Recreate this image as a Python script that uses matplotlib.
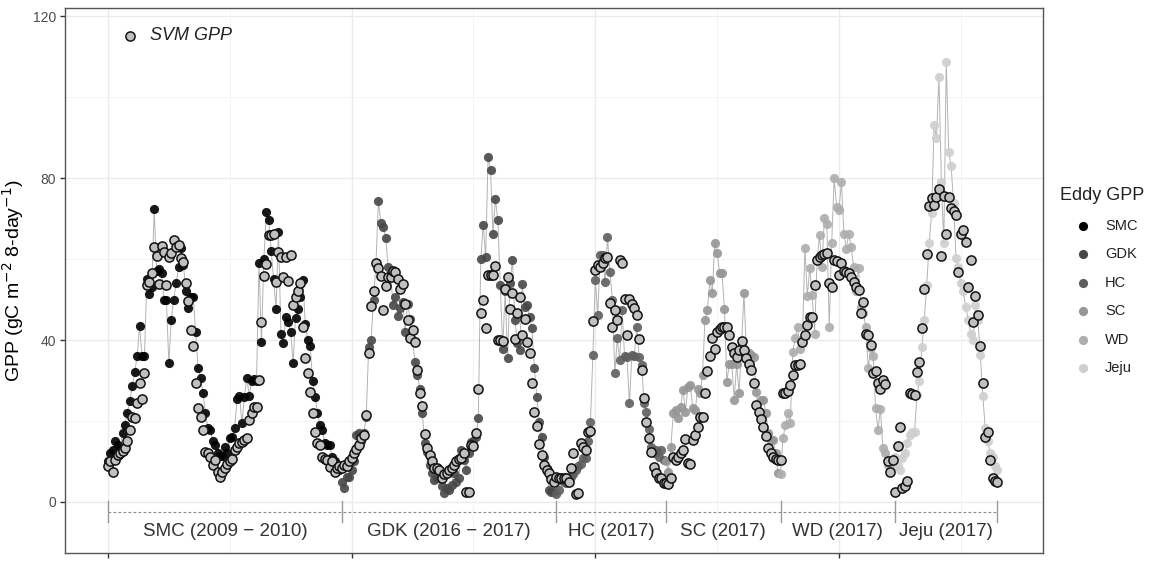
import matplotlib
matplotlib.use('Agg')
import matplotlib.pyplot as plt
import numpy as np

plt.rcParams['font.family'] = ['Liberation Sans', 'DejaVu Sans']

# ---------------- data ----------------
sites = ['SMC', 'GDK', 'HC', 'SC', 'WD', 'Jeju']
site_labels = ['SMC (2009 \u2212 2010)', 'GDK (2016 \u2212 2017)', 'HC (2017)',
               'SC (2017)', 'WD (2017)', 'Jeju (2017)']
site_colors = ['#000000', '#474747', '#5e5e5e', '#969696', '#adadad', '#cfcfcf']

smc_eddy = [10, 12, 12.8, 15, 14, 13, 17, 19, 22, 25,
            28.6, 32, 36, 43.5, 36, 36, 55, 51.4, 53, 72.3,
            57, 57.5, 56.6, 50, 50, 34.3, 45, 50, 54, 58,
            62.7, 58.5, 52, 48, 50.7, 50.7, 42, 33, 30.6, 27,
            22, 18.3, 17.8, 15, 14, 12, 11.4, 11.4, 13.7, 12,
            15.8, 16, 18.3, 25.4, 26.2, 19.5, 26, 30.6, 26.2, 30,
            30.4, 30, 59, 39.4, 60, 71.5, 69.6, 62, 55, 47.6,
            66.7, 41.5, 39.2, 45.8, 44.5, 42, 34.4, 45.5, 47.6, 50.7,
            54.8, 44, 40, 38.5, 30, 26, 22, 19, 17.8, 14.5,
            14, 14, 11.2, 10, 9, 8]
smc_svm = [9, 10, 7.4, 10.4, 11.6, 12.2, 12.5, 13.3, 15, 17.8,
           21, 20.7, 24.5, 29.3, 25.4, 31.9, 53.6, 54.4, 56.5, 63,
           60.7, 53.8, 63.2, 61.7, 53.6, 60.4, 61.6, 64.7, 62.9, 63.5,
           60.2, 59.3, 54.1, 49.6, 42.5, 38.5, 29.5, 23.1, 21, 17.9,
           12.4, 12, 11.2, 9.1, 10.4, 7.5, 6.2, 7.5, 8.3, 9.5,
           10, 10.5, 12.8, 13.7, 14.5, 14.9, 15.3, 15.7, 20.2, 21.9,
           23.5, 23.5, 30.1, 44.5, 55.8, 58.7, 65.9, 65.9, 66.3, 54.4,
           61.8, 60.4, 55.5, 60.4, 54.6, 61, 48.6, 50.7, 52, 54,
           43.3, 35.5, 31.9, 27.2, 21.9, 17.4, 14.5, 14, 11.2, 10.5,
           10.4, 8.7, 10, 7.5, 8.3, 9]

gdk_eddy = [5, 3.4, 6.2, 6.2, 8, 10, 16.5, 17, 15, 17,
            21, 38.3, 40, 50, 59, 74.3, 69, 68, 65.3, 58,
            56.5, 48.6, 50.7, 46, 48, 49.5, 42, 49, 45.3, 40,
            34.6, 31.4, 28, 22, 14.5, 12.4, 9.1, 7.1, 5.4, 6,
            7.1, 4, 2.1, 3.4, 3, 4.2, 7.1, 5, 5.9, 12.8,
            10.4, 8, 12, 14.9, 15, 16.1, 20.7, 60, 68.4, 60.6,
            85.3, 82, 66.3, 74.8, 69.6, 53.6, 37.9, 52, 35.5, 54,
            59.8, 45, 39.2, 37.5, 53.8, 48.2, 48.6, 45.7, 42.9, 33,
            26, 19.8, 16.1, 11.2, 8.3, 3, 2.5, 2.5]
gdk_svm = [8.3, 9.1, 9, 10, 10.8, 12, 13, 14, 15.7, 16.5,
           21.5, 36.9, 48.4, 52, 58.9, 57.7, 55.8, 47.4, 53.3, 55.6,
           55.6, 57, 56.9, 55, 52.5, 53.8, 48.8, 45, 40.4, 42.5,
           39.6, 32.6, 26.8, 23.8, 16.8, 13.3, 11.6, 10, 8.3, 8.5,
           8, 5.9, 7, 7.1, 7.9, 8.5, 9.1, 10, 10.5, 10.8,
           12, 2.5, 2.5, 14, 13.8, 17, 27.8, 46.6, 49.9, 42.9,
           56, 56, 56, 58.3, 40, 40, 39.8, 52.5, 55.6, 47.6,
           51.5, 40.2, 46.7, 50.7, 41.2, 45.3, 39.6, 36.7, 29.3, 22.3,
           18.8, 14.3, 11.6, 9.1, 7.9, 7.1, 5.6, 5]

hc_eddy = [2, 3, 5.4, 5, 4.6, 6.2, 6.2, 7, 8, 9,
           9.5, 10.8, 10.8, 15, 19.8, 36.3, 54.8, 46.2, 61, 61,
           54.4, 65.5, 56.7, 50, 31.8, 40.4, 35, 47.4, 36, 35.9,
           24.4, 36.3, 36, 43.3, 35.9, 33.8, 24.4, 22.3, 18, 13.7,
           12, 12.8, 11, 12.8, 10.4]
hc_svm = [6.2, 6, 5.8, 5.8, 5.8, 5, 8.3, 12, 2, 2.1,
          14.5, 13.7, 12.8, 17.4, 17.6, 44.7, 57.3, 58.5, 58.1, 58.9,
          60.2, 60.6, 49.2, 43.3, 47.4, 44.9, 59.8, 58.9, 50.1, 41.2,
          50.1, 49, 47.8, 46.2, 40.2, 32.6, 25.8, 19.8, 15.7, 12.4,
          8.7, 7.1, 6, 5.8, 4.6]

sc_eddy = [10, 7.5, 13.7, 21.9, 22.7, 20.7, 23.5, 27.7, 22.3, 28.5,
           28.9, 23.1, 22.7, 28, 26.8, 31.4, 44.9, 47.4, 54.8, 51.5,
           64, 61.6, 56.5, 56.5, 47.6, 29.7, 34.2, 34.2, 25.3, 34.2,
           26.8, 38.8, 51.5, 37.1, 36.7, 36.3, 35.9, 27.2, 21.9, 25.3,
           25.2, 21.9, 17, 15.3, 15.3, 12, 7.1]
sc_svm = [4.6, 4.4, 6, 11.2, 10.4, 11, 12, 12.8, 15.5, 9.7,
          9.3, 15.3, 16.5, 18.6, 21, 21, 26.8, 32.3, 36, 40.4,
          37.9, 42, 42.6, 43.1, 43.3, 43.3, 41.2, 38.3, 36.7, 35.9,
          37.5, 39.8, 37.5, 35.5, 34.2, 32.6, 29.3, 24, 22.1, 20.5,
          18.4, 16.3, 13.3, 12, 11, 10.5, 10.4]

wd_eddy = [7, 15.7, 19, 21.9, 19.4, 37.1, 40.4, 43.3, 37.7, 40,
           62.8, 50.9, 57.7, 51.1, 41.6, 59.8, 65.9, 58.1, 70.2, 68.6,
           43.3, 64, 79.9, 72.9, 72.1, 79.1, 66.3, 62.6, 66.3, 62.9,
           58, 52.1, 57.7, 48.2, 46.6, 43.1, 33, 38, 36, 23.1,
           17.8, 23, 13.3, 12, 9.1, 7.9, 9]
wd_svm = [10.4, 26.8, 26.8, 27.5, 28.9, 31.4, 33.8, 33.8, 34, 39.6,
          41.2, 43.7, 45.8, 45.8, 53.6, 59.8, 60.6, 61, 61.2, 61.4,
          54, 53, 59.8, 59.6, 56, 58.9, 57.1, 56.9, 56.5, 55.6,
          54.4, 53.2, 52.3, 46.7, 49.5, 41.6, 41.2, 38.8, 31.9, 32.4,
          29.3, 28, 30.1, 29.1, 10, 7.5, 10.4]

jeju_eddy = [11.2, 9, 8, 10.8, 12, 14.5, 16.5, 17.4, 17.4, 26.4,
             30, 38.3, 45, 53.6, 63.9, 71.3, 93.1, 89.8, 105, 79.1,
             63.9, 108.7, 86.5, 83, 73.8, 60.2, 58, 54, 52, 48.2,
             45, 41.6, 40, 48.6, 45, 36.3, 26.2, 18.2, 15, 12,
             11.2, 9, 7.9]
jeju_svm = [2.5, 13.9, 18.4, 3.4, 4, 5.2, 26.8, 26.7, 26.4, 32,
            34.6, 42.9, 52.5, 61.2, 73.2, 75, 73.3, 75.4, 77.2, 60.7,
            75.6, 66.3, 75.4, 72.5, 71.9, 70.9, 56.9, 66.2, 67.2, 64.3,
            53.2, 59.8, 44.5, 50.9, 46.2, 38.5, 29.3, 16.1, 17.4, 10.4,
            5.8, 5.3, 4.9]

eddy_all = [smc_eddy, gdk_eddy, hc_eddy, sc_eddy, wd_eddy, jeju_eddy]
svm_all = [smc_svm, gdk_svm, hc_svm, sc_svm, wd_svm, jeju_svm]

x_ticks = [0, 100, 200, 300]
y_ticks = [0, 40, 80, 120]

# ---------------- figure ----------------
W, H = 1172, 567
fig = plt.figure(figsize=(W / 100, H / 100), dpi=100)
ax = fig.add_axes([65 / W, (H - 553) / H, (1043 - 65) / W, (553 - 8) / H])

starts = np.cumsum([0] + [len(e) for e in eddy_all])
N = starts[-1]

for i, (e, s) in enumerate(zip(eddy_all, svm_all)):
    x = np.arange(starts[i], starts[i + 1])
    ax.plot(x, e, color='#b3b3b3', lw=0.7, zorder=2)
    ax.plot(x, e, ls='none', marker='o', ms=6.6, mfc=site_colors[i],
            mec='none', alpha=0.9, zorder=3)
for i, s in enumerate(svm_all):
    x = np.arange(starts[i], starts[i + 1])
    ax.plot(x, s, ls='none', marker='o', ms=6.6, mfc='#c0c0c0',
            mec='#111111', mew=1.1, zorder=4)

# site annotation bar
bounds = list(starts[:-1]) + [N - 1]
ax.plot([0, N - 1], [-2.5, -2.5], color='#8a8a8a', lw=0.8,
        dashes=(2.5, 2), zorder=2)
for b in bounds:
    ax.plot([b, b], [0.2, -4.9], color='#9a9a9a', lw=1.0, zorder=2)
for i, lab in enumerate(site_labels):
    xc = (bounds[i] + bounds[i + 1]) / 2
    ax.text(xc, -7.4, lab, ha='center', va='center', fontsize=13.5,
            color='#333333')

ax.set_xlim(-17.6, 383.7)
ax.set_ylim(-12.6, 122)
ax.set_xticks(x_ticks)
ax.set_xticklabels([])
ax.set_xticks([50, 150, 250, 350], minor=True)
ax.set_yticks(y_ticks)
ax.set_yticklabels([str(v) for v in y_ticks], fontsize=10, color='#4d4d4d')
ax.set_yticks([20, 60, 100], minor=True)
ax.grid(which='major', color='#ebebeb', lw=1.0, zorder=0)
ax.grid(which='minor', color='#f3f3f3', lw=0.6, zorder=0)
ax.set_axisbelow(True)
ax.tick_params(which='major', length=3.5, width=1, color='#333333', pad=3)
ax.tick_params(which='minor', length=0)
for sp in ax.spines.values():
    sp.set_color('#555555')
    sp.set_linewidth(1.0)
ax.set_ylabel('GPP (gC m$^{-2}$ 8-day$^{-1}$)', fontsize=14, labelpad=5)

# overlay for legends, in pixel coordinates
ov = fig.add_axes([0, 0, 1, 1], facecolor='none')
ov.set_xlim(0, W)
ov.set_ylim(H, 0)
ov.axis('off')

ov.plot([130], [36], marker='o', ms=6.6, mfc='#c0c0c0', mec='#111111', mew=1.1)
ov.text(150, 36, 'SVM GPP', fontsize=13, style='italic', va='center',
        ha='left', color='#222222')

ov.text(1060, 196, 'Eddy GPP', fontsize=13, va='center', ha='left',
        color='#222222')
for i, s in enumerate(sites):
    yy = 226 + i * 28.4
    ov.plot([1083], [yy], marker='o', ms=6.6, mfc=site_colors[i], mec='none')
    ov.text(1105, yy, s, fontsize=10.5, va='center', ha='left', color='#222222')

fig.savefig('out.png', dpi=100)
